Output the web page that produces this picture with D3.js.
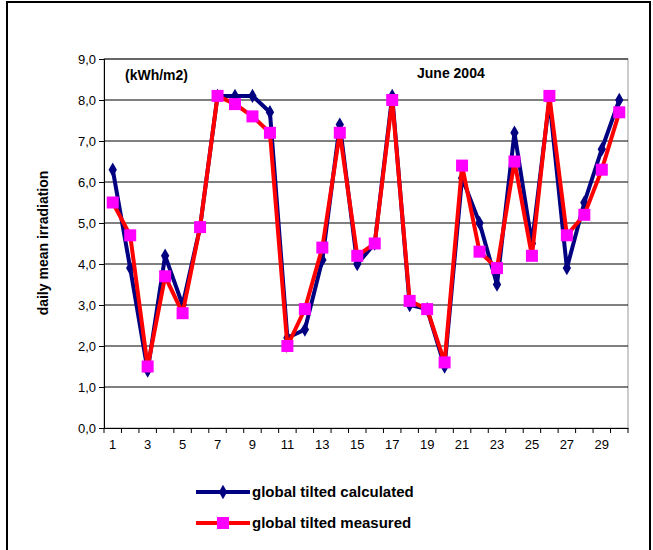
<!DOCTYPE html>
<html><head><meta charset="utf-8">
<script src="https://cdn.jsdelivr.net/npm/d3@7"></script>
<style>body{margin:0;background:#fff}text{font-family:Arial,"Liberation Sans",sans-serif}</style>
</head><body>
<script>
const days = d3.range(1, 31);
const calculated = [6.3,3.9,1.4,4.2,3.0,4.9,8.1,8.1,8.1,7.7,2.2,2.4,4.1,7.4,4.0,4.5,8.1,3.0,2.9,1.5,6.1,5.0,3.5,7.2,4.5,8.0,3.9,5.5,6.8,8.0];
const measured = [5.5,4.7,1.5,3.7,2.8,4.9,8.1,7.9,7.6,7.2,2.0,2.9,4.4,7.2,4.2,4.5,8.0,3.1,2.9,1.6,6.4,4.3,3.9,6.5,4.2,8.1,4.7,5.2,6.3,7.7];
const yTicks = d3.range(0, 10);

const W = 653, H = 550;
const svg = d3.select("body").append("svg").attr("width", W).attr("height", H);
svg.append("rect").attr("x", 7).attr("y", 2).attr("width", 643).attr("height", H + 10)
  .attr("fill", "#fff").attr("stroke", "#000").attr("stroke-width", 2);

const L = 104, R = 628, T = 59, B = 428;
const x = d3.scaleBand().domain(days).range([L, R]);
const y = d3.scaleLinear().domain([0, 9]).range([B, T]);
const cx = d => x(d) + x.bandwidth() / 2;

svg.append("rect").attr("x", L).attr("y", T).attr("width", R - L).attr("height", B - T)
  .attr("fill", "none").attr("stroke", "#999");
svg.selectAll(".grid").data(yTicks.slice(1)).join("line")
  .attr("x1", L).attr("x2", R).attr("y1", y).attr("y2", y).attr("stroke", "#000");

const ya = svg.append("g").attr("transform", `translate(${L},0)`)
  .call(d3.axisLeft(y).tickValues(yTicks).tickSize(5).tickFormat(d => d3.format(".1f")(d).replace(".", ",")));
const xa = svg.append("g").attr("transform", `translate(0,${B})`)
  .call(d3.axisBottom(x).tickSize(0).tickFormat(d => d % 2 ? d : ""));
xa.selectAll("text").attr("dy", "1.4em");
xa.selectAll(".tk").data(d3.range(31)).join("line").attr("class", "tk")
  .attr("x1", i => L + i * x.step()).attr("x2", i => L + i * x.step()).attr("y1", 0).attr("y2", 5).attr("stroke", "#000");
[ya, xa].forEach(a => { a.selectAll("text").attr("font-size", 13).attr("fill", "#000"); a.select(".domain").attr("stroke", "#000"); a.selectAll(".tick line").attr("stroke", "#000"); });

const line = d3.line().x((d, i) => cx(days[i])).y(d => y(d));
svg.append("path").datum(calculated).attr("d", line).attr("fill", "none").attr("stroke", "#000080").attr("stroke-width", 4);
const diamond = d3.symbol().type(d3.symbolDiamond).size(60);
svg.selectAll(".calc").data(calculated).join("path")
  .attr("transform", (d, i) => `translate(${cx(days[i])},${y(d)})`).attr("d", diamond).attr("fill", "#000080");
svg.append("path").datum(measured).attr("d", line).attr("fill", "none").attr("stroke", "#ff0000").attr("stroke-width", 4);
svg.selectAll(".meas").data(measured).join("rect")
  .attr("x", (d, i) => cx(days[i]) - 6).attr("y", d => y(d) - 6).attr("width", 12).attr("height", 12).attr("fill", "#ff00ff");

svg.append("text").attr("x", 125).attr("y", 80).attr("font-size", 14).attr("font-weight", "bold").text("(kWh/m2)");
svg.append("text").attr("x", 417).attr("y", 78).attr("font-size", 14).attr("font-weight", "bold").text("June 2004");
svg.append("text").attr("transform", "translate(48,243) rotate(-90)").attr("text-anchor", "middle")
  .attr("font-size", 14).attr("font-weight", "bold").text("daily mean irradiation");

const leg = [["global tilted calculated", "#000080", "d"], ["global tilted measured", "#ff0000", "s"]];
leg.forEach((l, i) => {
  const yy = 492 + i * 31;
  svg.append("line").attr("x1", 196).attr("x2", 250).attr("y1", yy).attr("y2", yy).attr("stroke", l[1]).attr("stroke-width", 4);
  if (l[2] === "d") svg.append("path").attr("transform", `translate(223,${yy})`).attr("d", diamond).attr("fill", "#000080");
  else svg.append("rect").attr("x", 217).attr("y", yy - 6).attr("width", 12).attr("height", 12).attr("fill", "#ff00ff");
  svg.append("text").attr("x", 252).attr("y", yy + 5).attr("font-size", 15).attr("font-weight", "bold").text(l[0]);
});
</script>
</body></html>
